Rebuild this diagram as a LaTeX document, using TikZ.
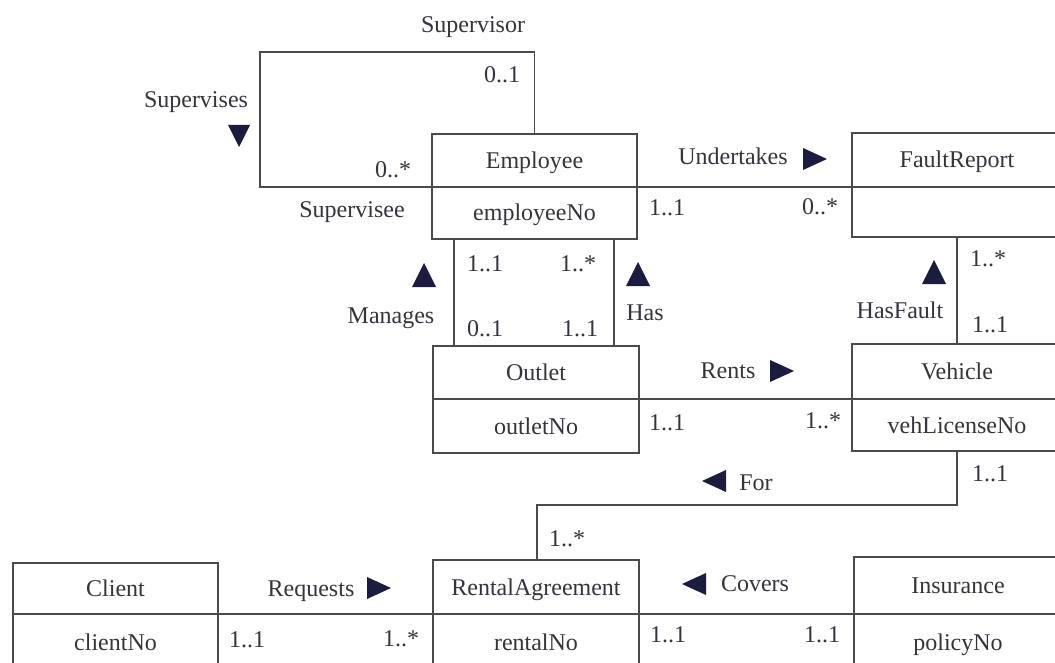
\documentclass[tikz,border=0pt]{standalone}
\usepackage{fontspec}
\setmainfont{Liberation Serif}
\definecolor{txtcol}{HTML}{34343F}
\definecolor{linecol}{HTML}{4A4A4A}
\definecolor{tricol}{HTML}{1C1C40}
\tikzset{
  base/.style={inner sep=0pt, outer sep=0pt, text=txtcol, font=\fontsize{24}{28}\selectfont, text height=16pt, text depth=0pt},
  cls/.style={base, draw=linecol, line width=1.3pt, rectangle},
  lbl/.style={base},
  conn/.style={draw=linecol, line width=1.3pt},
  trir/.pic={\fill[tricol] (-12,-11) -- (12,0) -- (-12,11) -- cycle;},
  tril/.pic={\fill[tricol] (12,-11) -- (-12,0) -- (12,11) -- cycle;},
  triu/.pic={\fill[tricol] (-12,12) -- (0,-12) -- (12,12) -- cycle;},
  trid/.pic={\fill[tricol] (-11,-11) -- (0,11) -- (11,-11) -- cycle;},
}
\begin{document}
\begin{tikzpicture}[x=1pt,y=-1pt]
\useasboundingbox[fill=white] (0,0) rectangle (1055,663);

% classes
\node[cls, minimum width=205pt, minimum height=53pt] (empT) at (534.5,160.5) {Employee};
\node[cls, minimum width=205pt, minimum height=52pt] (empB) at (534.5,213) {employeeNo};

\node[cls, minimum width=210pt, minimum height=54pt] (frT) at (957,160) {FaultReport};
\node[cls, minimum width=210pt, minimum height=50pt] (frB) at (957,212) {};

\node[cls, minimum width=206pt, minimum height=53pt] (outT) at (536,372.5) {Outlet};
\node[cls, minimum width=206pt, minimum height=54pt] (outB) at (536,426) {outletNo};

\node[cls, minimum width=210pt, minimum height=55pt] (vehT) at (957,371.5) {Vehicle};
\node[cls, minimum width=210pt, minimum height=52pt] (vehB) at (957,425) {vehLicenseNo};

\node[cls, minimum width=205pt, minimum height=51pt] (cliT) at (115.5,588.5) {Client};
\node[cls, minimum width=205pt, minimum height=56pt] (cliB) at (115.5,642) {clientNo};

\node[cls, minimum width=206pt, minimum height=54pt] (raT) at (536,587) {RentalAgreement};
\node[cls, minimum width=206pt, minimum height=56pt] (raB) at (536,642) {rentalNo};

\node[cls, minimum width=208pt, minimum height=57pt] (insT) at (958,585.5) {Insurance};
\node[cls, minimum width=208pt, minimum height=56pt] (insB) at (958,642) {policyNo};

% connectors
\coordinate (supc) at (260,52);
\draw[conn] (empT.north) |- (supc) |- (empB.north west);
\draw[conn] (empB.north east) -- (frB.north west);
\draw[conn] ([xshift=22pt]empB.south west) -- ([xshift=22pt]empB.south west |- outT.north);
\draw[conn] ([xshift=-23pt]empB.south east) -- ([xshift=-23pt]empB.south east |- outT.north);
\draw[conn] (frB.south) -- (vehT.north);
\draw[conn] (outB.north east) -- (vehB.north west);
\coordinate (forc) at (537,505);
\draw[conn] (vehB.south) |- (forc) -- (forc |- raT.north);
\draw[conn] (cliB.north east) -- (raB.north west);
\draw[conn] (raB.north east) -- (insB.north west);

% labels
\node[lbl] (lSupervisor) at (473,25) {Supervisor};
\node[lbl] (lSupM1) at (502,75) {0..1};
\node[lbl] (lSupervises) at (196,100) {Supervises};
\pic at (239,136) {trid};
\node[lbl] (lSupM2) at (393,170) {0..*};
\node[lbl] (lSupervisee) at (352,210) {Supervisee};

\node[lbl] (lUndertakes) at (733,157) {Undertakes};
\pic at (815,159) {trir};
\node[lbl] (lUndM1) at (667,208) {1..1};
\node[lbl] (lUndM2) at (820,207) {0..*};

\pic at (934,272) {triu};
\node[lbl] (lHasFault) at (900,310) {HasFault};
\node[lbl] (lHFM1) at (988,258) {1..*};
\node[lbl] (lHFM2) at (990,324) {1..1};

\pic at (424,275) {triu};
\node[lbl] (lManages) at (391,315) {Manages};
\node[lbl] (lManM1) at (485,263) {1..1};
\node[lbl] (lManM2) at (485,328) {0..1};

\pic at (638,274) {triu};
\node[lbl] (lHas) at (645,312) {Has};
\node[lbl] (lHasM1) at (578,263) {1..*};
\node[lbl] (lHasM2) at (580,328) {1..1};

\node[lbl] (lRents) at (728,370) {Rents};
\pic at (782,371) {trir};
\node[lbl] (lRentM1) at (667,422) {1..1};
\node[lbl] (lRentM2) at (823,420) {1..*};

\pic at (714,481) {tril};
\node[lbl] (lFor) at (756,482) {For};
\node[lbl] (lForM1) at (990,473) {1..1};
\node[lbl] (lForM2) at (567,538) {1..*};

\node[lbl] (lRequests) at (311,588) {Requests};
\pic at (379,588) {trir};
\node[lbl] (lReqM1) at (247,639) {1..1};
\node[lbl] (lReqM2) at (401,638) {1..*};

\pic at (694,584) {tril};
\node[lbl] (lCovers) at (755,583) {Covers};
\node[lbl] (lCovM1) at (668,634) {1..1};
\node[lbl] (lCovM2) at (822,634) {1..1};
\end{tikzpicture}
\end{document}
